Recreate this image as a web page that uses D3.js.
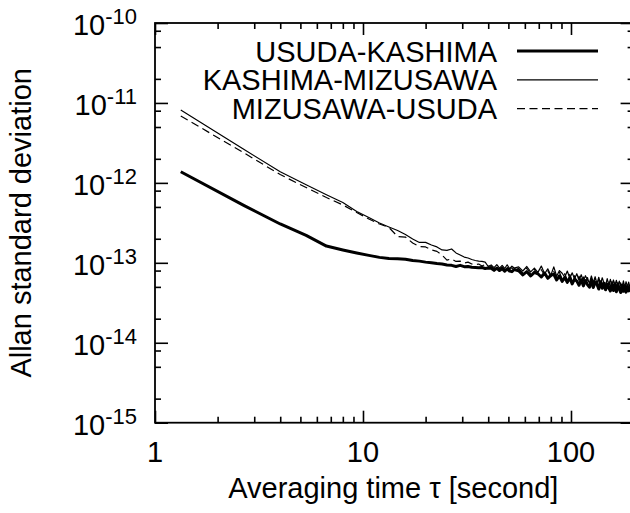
<!DOCTYPE html>
<html><head><meta charset="utf-8">
<script src="https://cdn.jsdelivr.net/npm/d3@7"></script>
<style>
html,body{margin:0;padding:0;background:#fff;}
svg{display:block;background:#fff;}
text{font-family:"Liberation Sans",Arial,Helvetica,sans-serif;fill:#000;}
</style></head><body>
<svg id="chart" width="630" height="513"></svg>
<script>
// Averaging time tau [s]
const tau = [1.33, 2.67, 4, 5.33, 6.67, 8, 9.33, 10.67, 12, 13.33,
  14.67, 16, 17.33, 18.67, 20, 21.33, 22.67, 24, 25.33, 26.67,
  28, 29.33, 30.67, 32, 33.33, 34.67, 36, 37.33, 38.67, 40,
  41.33, 42.67, 44, 45.33, 46.67, 48, 49.33, 50.67, 52, 53.33,
  56, 58.67, 61.33, 64, 66.67, 69.33, 72, 74.67, 77.33, 80,
  82.67, 85.33, 88, 90.67, 93.33, 96, 98.67, 101.33, 104, 106.67,
  109.33, 112, 114.67, 117.33, 120, 122.67, 125.33, 128, 130.67, 133.33,
  136, 138.67, 141.33, 144, 146.67, 149.33, 152, 154.67, 157.33, 160,
  162.67, 165.33, 168, 170.67, 173.33, 176, 178.67, 181.33, 184, 186.67,
  189.33, 192];

const usudaKashima = [1.38e-12, 5.23e-13, 3.06e-13, 2.20e-13, 1.62e-13, 1.45e-13, 1.33e-13, 1.24e-13, 1.17e-13, 1.13e-13,
  1.125e-13, 1.11e-13, 1.07e-13, 1.05e-13, 1.02e-13, 1.00e-13, 9.8e-14, 9.66e-14, 9.4e-14, 9.3e-14,
  9.0e-14, 9.3e-14, 8.95e-14, 9.0e-14, 8.8e-14, 8.75e-14, 8.7e-14, 8.75e-14, 8.5e-14, 8.6e-14,
  8.55e-14, 8.05e-14, 8.6e-14, 8.0e-14, 8.45e-14, 7.85e-14, 8.4e-14, 7.9e-14, 7.75e-14, 8.25e-14,
  7.95e-14, 7.05e-14, 7.75e-14, 6.85e-14, 7.6e-14, 7.3e-14, 6.65e-14, 7.45e-14, 6.4e-14, 6.95e-14,
  7.2e-14, 6.1e-14, 6.85e-14, 5.85e-14, 6.55e-14, 5.7e-14, 6.5e-14, 5.45e-14, 6.25e-14, 5.9e-14,
  5.25e-14, 6.15e-14, 5.15e-14, 6.0e-14, 5.35e-14, 4.95e-14, 5.95e-14, 4.9e-14, 5.7e-14, 5.4e-14,
  4.7e-14, 5.8e-14, 4.8e-14, 5.55e-14, 4.6e-14, 5.4e-14, 4.85e-14, 4.45e-14, 5.5e-14, 4.5e-14,
  5.3e-14, 4.35e-14, 5.35e-14, 4.7e-14, 4.25e-14, 5.25e-14, 4.4e-14, 5.1e-14, 4.3e-14, 5.05e-14,
  4.45e-14, 4.75e-14];

const kashimaMizusawa = [8.16e-12, 2.63e-12, 1.38e-12, 9.46e-13, 7.11e-13, 5.69e-13, 4.39e-13, 3.69e-13, 3.15e-13, 2.81e-13,
  2.54e-13, 2.26e-13, 1.99e-13, 1.80e-13, 1.80e-13, 1.67e-13, 1.58e-13, 1.45e-13, 1.43e-13, 1.49e-13,
  1.33e-13, 1.25e-13, 1.18e-13, 1.15e-13, 1.10e-13, 1.07e-13, 1.05e-13, 1.04e-13, 1.02e-13, 9.0e-14,
  9.4e-14, 8.7e-14, 9.5e-14, 8.6e-14, 9.3e-14, 8.5e-14, 9.45e-14, 8.45e-14, 9.1e-14, 8.6e-14,
  8.9e-14, 7.9e-14, 9.0e-14, 7.7e-14, 8.6e-14, 7.6e-14, 9.1e-14, 7.3e-14, 8.4e-14, 7.0e-14,
  8.9e-14, 6.8e-14, 8.0e-14, 7.4e-14, 6.6e-14, 7.9e-14, 6.4e-14, 7.5e-14, 6.3e-14, 7.3e-14,
  6.0e-14, 7.1e-14, 5.9e-14, 6.9e-14, 6.1e-14, 5.6e-14, 6.85e-14, 5.7e-14, 6.7e-14, 5.5e-14,
  6.6e-14, 5.4e-14, 6.5e-14, 5.6e-14, 5.2e-14, 6.35e-14, 5.25e-14, 6.2e-14, 5.1e-14, 6.1e-14,
  5.15e-14, 6.05e-14, 5.0e-14, 5.9e-14, 5.2e-14, 4.9e-14, 5.95e-14, 4.95e-14, 5.8e-14, 5.0e-14,
  5.75e-14, 4.95e-14];

const mizusawaUsuda = [6.87e-12, 2.38e-12, 1.27e-12, 8.75e-13, 6.56e-13, 5.29e-13, 4.26e-13, 3.53e-13, 3.06e-13, 2.77e-13,
  2.13e-13, 2.10e-13, 1.77e-13, 1.60e-13, 1.58e-13, 1.45e-13, 1.39e-13, 1.25e-13, 1.08e-13, 1.12e-13,
  1.04e-13, 1.05e-13, 9.95e-14, 1.02e-13, 9.66e-14, 9.5e-14, 9.66e-14, 9.12e-14, 9.5e-14, 9.12e-14,
  9.0e-14, 8.45e-14, 9.05e-14, 8.35e-14, 8.9e-14, 8.25e-14, 8.85e-14, 8.2e-14, 8.7e-14, 8.2e-14,
  8.5e-14, 7.5e-14, 8.55e-14, 7.3e-14, 8.3e-14, 7.15e-14, 8.2e-14, 7.0e-14, 7.95e-14, 6.7e-14,
  7.8e-14, 6.5e-14, 7.6e-14, 6.3e-14, 7.3e-14, 6.1e-14, 7.15e-14, 5.9e-14, 6.9e-14, 5.75e-14,
  6.8e-14, 5.6e-14, 6.65e-14, 5.5e-14, 6.55e-14, 5.35e-14, 6.4e-14, 5.25e-14, 6.3e-14, 5.15e-14,
  6.2e-14, 5.05e-14, 6.1e-14, 5.0e-14, 6.0e-14, 4.9e-14, 5.9e-14, 4.85e-14, 5.85e-14, 4.75e-14,
  5.75e-14, 4.7e-14, 5.7e-14, 4.6e-14, 5.6e-14, 4.6e-14, 5.55e-14, 4.5e-14, 5.5e-14, 4.45e-14,
  5.45e-14, 4.5e-14];

const seriesNames = ["USUDA-KASHIMA", "KASHIMA-MIZUSAWA", "MIZUSAWA-USUDA"];
const xMajorTicks = [1, 10, 100];
const xMinorTicks = [2, 3, 4, 5, 6, 7, 8, 9, 20, 30, 40, 50, 60, 70, 80, 90, 200];
const xTickLabels = ["1", "10", "100"];
const yMajorTicks = [1e-10, 1e-11, 1e-12, 1e-13, 1e-14, 1e-15];
const yTickExponents = ["-10", "-11", "-12", "-13", "-14", "-15"];
const yMinorTicks = [8e-11, 5e-11, 2e-11, 8e-12, 5e-12, 2e-12, 8e-13, 5e-13, 2e-13, 8e-14, 5e-14, 2e-14, 8e-15, 5e-15, 2e-15];
const xTitle = "Averaging time \u03c4 [second]";
const yTitle = "Allan standard deviation";

const svg = d3.select("#chart");
const L = 155, R = 633.6, T = 23, B = 422.7;
const FS = 29;
const x = d3.scaleLog().domain([1, 200]).range([L, R]);
const y = d3.scaleLog().domain([1e-15, 1e-10]).range([B, T]);

svg.append("rect").attr("width", 630).attr("height", 513).attr("fill", "#fff");

function ticks(axisFn, scale, values, size, tr) {
  svg.append("g").attr("transform", tr)
    .call(axisFn(scale).tickValues(values).tickSizeInner(size).tickSizeOuter(0).tickFormat(""))
    .call(g => g.select(".domain").remove())
    .call(g => g.selectAll("line").attr("stroke", "#000").attr("stroke-width", 1.6));
}
ticks(d3.axisBottom, x, xMajorTicks, -12, `translate(0,${B})`);
ticks(d3.axisBottom, x, xMinorTicks, -6, `translate(0,${B})`);
ticks(d3.axisTop, x, xMajorTicks, -12, `translate(0,${T})`);
ticks(d3.axisTop, x, xMinorTicks, -6, `translate(0,${T})`);
ticks(d3.axisLeft, y, yMajorTicks, -13, `translate(${L},0)`);
ticks(d3.axisLeft, y, yMinorTicks, -6, `translate(${L},0)`);
ticks(d3.axisRight, y, yMajorTicks, -13, `translate(${R},0)`);
ticks(d3.axisRight, y, yMinorTicks, -6, `translate(${R},0)`);

svg.append("rect").attr("x", L).attr("y", T).attr("width", R - L).attr("height", B - T)
  .attr("fill", "none").attr("stroke", "#000").attr("stroke-width", 1.8);

// tick labels
svg.append("g").selectAll("text").data(xMajorTicks).join("text")
  .attr("x", d => x(d)).attr("y", 462).attr("text-anchor", "middle")
  .attr("font-size", FS).text((d, i) => xTickLabels[i]);

const yl = svg.append("g").selectAll("text").data(yMajorTicks).join("text")
  .attr("x", 137).attr("y", d => y(d) + 12).attr("text-anchor", "end").attr("font-size", FS);
yl.append("tspan").text("10");
yl.append("tspan").attr("font-size", 22).attr("dy", -11).text((d, i) => yTickExponents[i]);

// titles
svg.append("text").attr("x", (L + R) / 2 - 1).attr("y", 498).attr("text-anchor", "middle")
  .attr("font-size", FS).text(xTitle);
svg.append("text").attr("transform", `translate(31,${(T + B) / 2}) rotate(-90)`)
  .attr("text-anchor", "middle").attr("font-size", FS).text(yTitle);

// data
svg.append("clipPath").attr("id", "clip").append("rect")
  .attr("x", L).attr("y", T).attr("width", R - L).attr("height", B - T);
const line = d3.line().x(d => x(d[0])).y(d => y(d[1]));
const styles = [
  { w: 3, dash: null },
  { w: 1.2, dash: null },
  { w: 1.2, dash: "8,4.5" }
];
const allSeries = [usudaKashima, kashimaMizusawa, mizusawaUsuda];
const gData = svg.append("g").attr("clip-path", "url(#clip)");
allSeries.forEach((vals, i) => {
  gData.append("path").datum(tau.map((t, j) => [t, vals[j]]))
    .attr("d", line).attr("fill", "none").attr("stroke", "#000")
    .attr("stroke-width", styles[i].w).attr("stroke-linejoin", "round")
    .attr("stroke-dasharray", styles[i].dash);
});

// legend
const lg = svg.append("g");
seriesNames.forEach((name, i) => {
  const ly = 51 + i * 28.8;
  lg.append("text").attr("x", 497).attr("y", ly + 10.5).attr("text-anchor", "end")
    .attr("font-size", FS).text(name);
  lg.append("line").attr("x1", 517).attr("x2", 598).attr("y1", ly).attr("y2", ly)
    .attr("stroke", "#000").attr("stroke-width", styles[i].w)
    .attr("stroke-dasharray", styles[i].dash);
});
</script>
</body></html>
